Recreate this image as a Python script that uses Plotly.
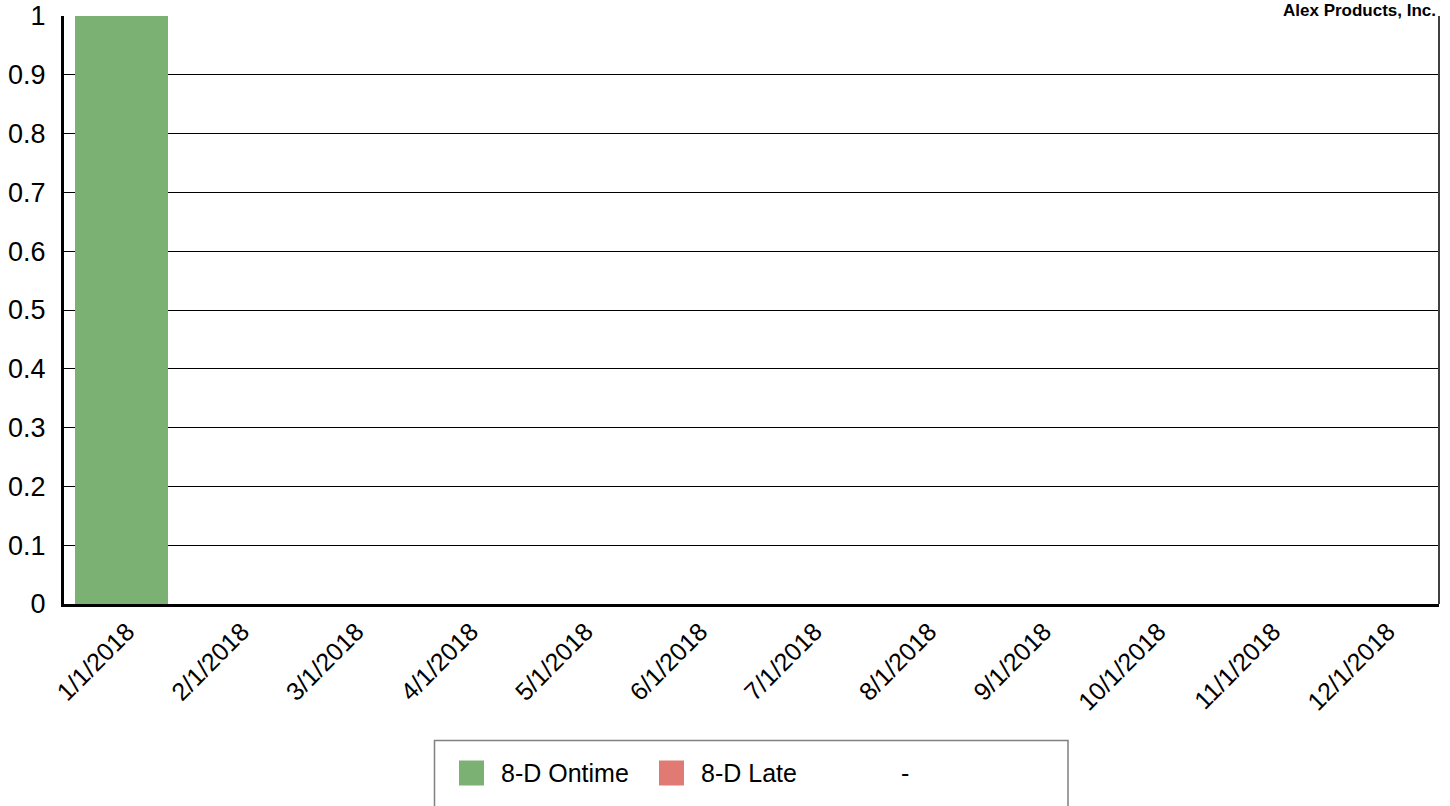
import plotly.graph_objects as go

categories = ["1/1/2018", "2/1/2018", "3/1/2018", "4/1/2018", "5/1/2018", "6/1/2018",
              "7/1/2018", "8/1/2018", "9/1/2018", "10/1/2018", "11/1/2018", "12/1/2018"]
ontime = [1, 0, 0, 0, 0, 0, 0, 0, 0, 0, 0, 0]
late = [0, 0, 0, 0, 0, 0, 0, 0, 0, 0, 0, 0]
blank = [0, 0, 0, 0, 0, 0, 0, 0, 0, 0, 0, 0]
series_names = ["8-D Ontime", "8-D Late", "-"]
series_colors = ["#7bb274", "#e07a73", "rgba(0,0,0,0)"]
series_values = [ontime, late, blank]
y_ticks = [0, 0.1, 0.2, 0.3, 0.4, 0.5, 0.6, 0.7, 0.8, 0.9, 1]
y_tick_text = ["0", "0.1", "0.2", "0.3", "0.4", "0.5", "0.6", "0.7", "0.8", "0.9", "1"]
title_text = "Alex Products, Inc."

W, H = 1450, 806
ML, MR, MT, MB = 64, 11, 16, 202
PW, PH = W - ML - MR, H - MT - MB


def px_x(px):
    return (px - ML) / PW


def px_y(py):
    return (H - MB - py) / PH


FONT = "Arial, Liberation Sans, sans-serif"

fig = go.Figure()
for name, color, vals in zip(series_names, series_colors, series_values):
    fig.add_trace(go.Bar(x=categories, y=vals, name=name, marker_color=color,
                         marker_line_width=0, showlegend=False))

shapes = [
    dict(type="line", xref="paper", yref="paper", x0=1, x1=1, y0=0, y1=1,
         line=dict(color="#404040", width=2)),
    dict(type="rect", xref="paper", yref="paper", x0=px_x(434.5), x1=px_x(1068),
         y0=px_y(740.5), y1=px_y(830), line=dict(color="#808080", width=1.5),
         fillcolor="rgba(0,0,0,0)", layer="above"),
]
annotations = [
    dict(text="<b>" + title_text + "</b>", xref="paper", yref="paper", x=px_x(1437),
         xanchor="right", y=px_y(0), yanchor="top", showarrow=False,
         font=dict(size=17, color="black", family=FONT), borderpad=0),
]

# legend entries (drawn manually to match the large square swatches)
row_y = 773
for i, (name, color) in enumerate(zip(series_names, series_colors)):
    sx = 459 + 200 * i
    shapes.append(dict(type="rect", xref="paper", yref="paper", x0=px_x(sx), x1=px_x(sx + 25),
                       y0=px_y(row_y - 12.5), y1=px_y(row_y + 12.5),
                       line=dict(width=0), fillcolor=color))
    annotations.append(dict(text=name, xref="paper", yref="paper", x=px_x(sx + 40),
                            xanchor="left", y=px_y(row_y), yanchor="middle", showarrow=False,
                            font=dict(size=25, color="black", family=FONT)))

fig.update_layout(
    width=W, height=H,
    margin=dict(l=ML, r=MR, t=MT, b=MB, autoexpand=False),
    paper_bgcolor="white", plot_bgcolor="white",
    barmode="stack", bargap=0.19,
    font=dict(family=FONT, color="black"),
    showlegend=False,
    xaxis=dict(type="category", tickangle=-45, tickfont=dict(size=25),
               showline=True, linecolor="black", linewidth=3, showgrid=False,
               ticks="", ticklabelshift=6, automargin=False, fixedrange=True),
    yaxis=dict(range=[0, 1], tickvals=y_ticks, ticktext=y_tick_text,
               tickfont=dict(size=27), showline=True, linecolor="black", linewidth=3,
               showgrid=True, gridcolor="black", gridwidth=1.2, zeroline=False,
               ticks="outside", ticklen=10, tickcolor="rgba(0,0,0,0)",
               automargin=False, fixedrange=True),
    shapes=shapes,
    annotations=annotations,
)

fig.write_html("out.html", config={"displayModeBar": False},
               post_script="document.body.style.margin='0';")
